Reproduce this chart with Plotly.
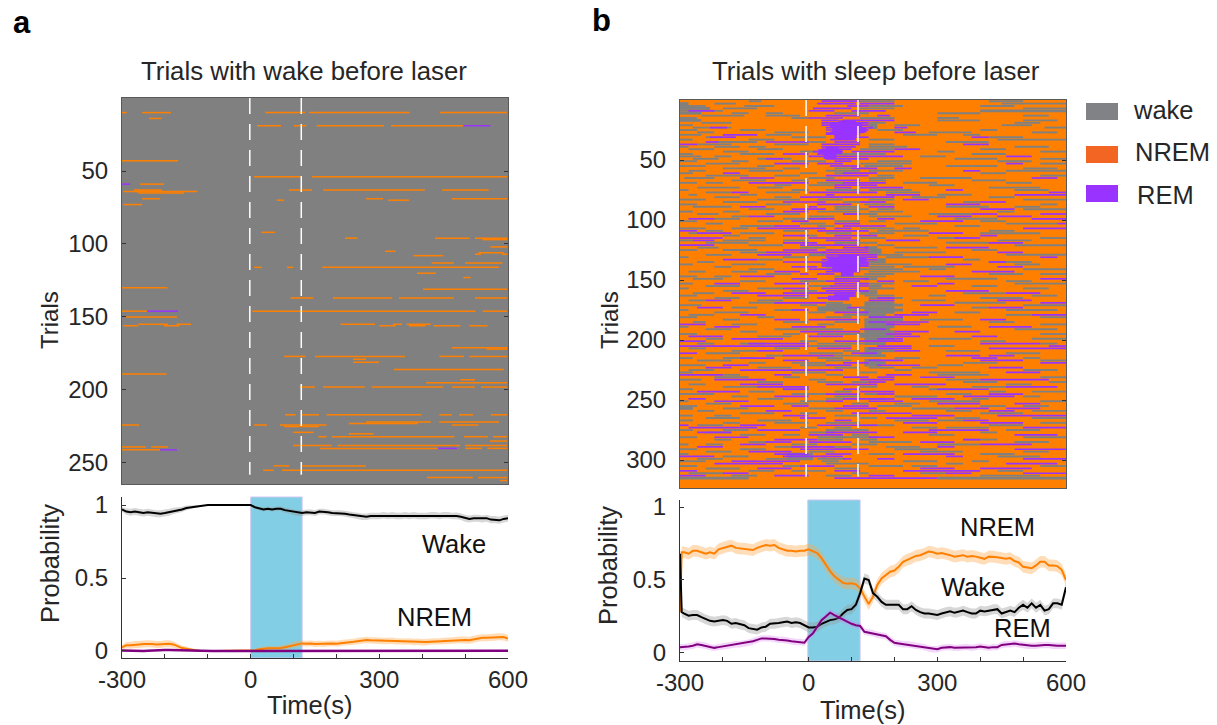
import plotly.graph_objects as go

W, H = 1217, 725
GREY, ORANGE, PURPLE = "#808080", "#FF8000", "#9933FF"
TXT = "#262626"
FONT = "Liberation Sans, Arial, sans-serif"

# ---------- Panel a raster: (trial, start s, end s)
NREM_A = [
 (10,-300,-289),(10,-253,-186),(10,34,127),(10,136,371),(10,441,598),(14,-237,-208),
 (19,15,71),(19,101,130),(19,154,311),(19,327,496),(43,-300,-169),(54,8,117),(54,143,598),
 (59,-258,-202),(63,89,143),(63,169,406),(63,446,555),(63,-272,-207),(64,-297,-124),(64,-272,-207),
 (65,-262,-155),(69,-253,-211),(69,269,309),(69,469,598),(70,61,78),(70,321,369),(73,-297,-253),
 (92,25,57),(96,220,249),(96,430,510),(96,523,598),(97,540,598),(102,559,598),(105,313,338),
 (106,531,590),(107,523,537),(107,586,598),(108,379,449),(113,422,474),(113,500,587),
 (116,8,26),(116,85,99),(116,167,579),(120,388,432),(123,496,513),(130,-300,-194),(131,402,598),
 (137,93,146),(137,192,330),(137,346,474),(137,523,598),(146,-300,-241),(146,4,524),(146,541,598),
 (150,-291,-172),(155,-262,-193),(155,-173,-139),(155,210,290),(155,332,353),(155,364,420),
 (156,-297,-262),(156,-202,-166),(156,300,338),(156,369,408),(156,426,489),(156,510,552),
 (171,469,598),(172,550,598),(177,78,128),(177,150,360),(177,440,497),(177,510,598),
 (179,239,269),(181,239,299),(186,334,590),(189,-300,-196),(193,489,523),(195,409,598),
 (198,114,150),(198,169,266),(198,282,449),(198,469,523),(198,537,598),
 (217,80,105),(217,119,159),(217,177,398),(217,440,469),(217,486,519),(217,560,598),
 (222,269,420),(222,440,579),(223,229,390),(224,-300,-260),(224,8,38),(224,68,177),(224,469,531),
 (225,78,159),(229,99,147),(230,229,287),(232,158,177),(232,189,475),(232,497,553),(232,565,598),
 (235,558,598),(238,99,189),(238,203,488),(238,500,598),(239,-300,-244),(239,-232,-193),
 (240,162,437),(240,500,539),(240,552,598),(241,-300,-211),(252,53,90),(252,119,269),
 (255,29,54),(255,73,598),(260,411,518),(260,530,598),(262,582,598),
]
REM_A = [(19,496,559),(59,-300,-281),(146,-241,-169),(240,437,481),(241,-211,-172)]

# ---------- Panel b raster, one line per two trials; runs in 10 s units from -300.
# NREM is the background. w/r thin wake/REM streak, W thick wake.
RUNS_B = """
w16-19 r33-42 w42-50 w72-80
W0-2 w8-13 r32-41 r42-50 w75-90
w0-6 w15-22 r39-44 w44-52 w70-78
W0-7 w10-18 r31-40 w42-50 w80-90
w0-3 r2-8 w3-10 r30-36 r40-48 W70-90
W0-5 w12-16 w20-24 w36-44 w60-70
w5-15 w20-28 r34-42 r46-49 w80-86
w0-4 w26-30 r30-38 w42-50 w60-65
W0-5 r33-37 r38-50 w60-70 w80-88
w5-12 r33-44 w44-48 w78-84
w0-3 r33-44 W44-46 w50-56 w75-82
w3-12 r7-11 r34-45 W44-46 r50-53 w85-90
w0-4 w14-20 r34-44 w46-52 w70-74
w4-8 w22-30 r35-43 r50-55 w58-68 w82-88
w0-5 r10-18 w20-26 r36-42 w52-60 w66-70
w6-10 r7-13 w26-34 r37-44 w72-80 r68-72
w0-3 w16-22 r35-41 w44-50 w74-90
w8-18 r6-9 r20-30 w28-34 r36-42 w62-72
r0-4 w4-12 w22-30 r33-42 w44-50 r66-72
w0-2 w8-14 w16-20 r33-41 w44-53 w78-86
w2-8 w18-24 r33-40 w42-50 r50-56 w70-76
w10-16 w28-32 r31-38 r40-50 w60-64 w84-90
w0-3 w14-22 r24-30 r32-36 w36-48 w68-76
w0-5 w8-12 r30-44 r44-52 w56-62 r76-82
w3-9 w18-26 r20-24 r34-44 w64-74 w84-90
w0-4 w12-16 w26-34 r36-40 w46-54 w74-82
w6-14 r22-30 r32-38 w42-54 r76-80 w84-90
w0-6 w18-22 r35-42 w43-52 w62-68 w68-74
w10-20 w24-28 w36-44 r40-46 r50-54 w80-88
w2-6 w16-24 w34-42 w44-52 r66-70 w76-90
w0-3 r10-14 w28-32 w36-40 r38-46 w70-76
w6-16 w22-28 r34-44 w46-50 w84-90
w1-8 r14-22 w30-36 w44-50 w56-68 r82-88
w12-20 w26-30 r34-42 w44-48 w68-76
w0-4 w6-10 r16-30 w32-38 r38-48 w52-60 w76-82
w22-26 w30-36 r36-44 r44-46 w58-64
w4-14 w18-24 r36-40 r42-52 w72-84
w0-2 w26-30 w34-42 w44-54 r62-66 w78-86
w6-12 r12-16 w20-28 r30-46 w48-56 r86-90
w2-4 w14-18 r34-36 r48-56 w60-68 r78-90
w8-14 w22-26 r28-42 r42-50 w54-62 w72-78
w0-6 w18-28 w32-38 w44-50 r52-58 w80-90
w10-18 r24-34 w38-44 r42-48 w66-70 r70-76
w0-4 w20-26 r32-40 w43-50 r62-70 w84-88
w3-12 r14-20 r30-32 w36-42 r44-50 w62-72 w78-84
w16-22 r26-34 w36-44 w46-50 r70-78 w80-90
w0-3 w10-14 r24-30 w32-42 w44-52 w74-78
w4-9 w20-28 w38-46 r38-42 w58-68 r68-74 r84-90
w12-16 r16-22 w30-36 w44-54 r60-68 r74-82
r2-8 w8-14 w24-34 r30-36 r46-50 w64-74 r82-90
w0-4 w18-24 r26-30 w36-42 w44-48 r56-66 w70-76
w6-10 w28-34 r36-42 w50-60 w76-88 r88-90
w14-22 r22-28 w32-36 r38-44 r44-48 w64-70
w0-6 w12-16 r18-34 r36-40 w42-50 w52-56 r80-90
r0-4 w6-10 w24-30 r32-44 w46-58 w72-78
w2-6 r4-12 w14-22 w34-40 w44-50 r58-66 w70-84
w10-14 w28-32 r24-30 r36-46 w52-58 r70-74
r0-6 r6-10 w16-20 r30-40 w42-48 w60-68 r64-70 w84-90
w0-3 r3-8 w10-20 w24-30 r34-42 r48-56 w74-82
w6-16 r24-32 w36-46 w62-72 r72-80
r0-8 w16-24 r28-38 r36-42 w46-50 w78-90
w4-9 w28-34 r38-44 W43-46 w50-60 r62-72
w0-4 w10-18 r24-32 r34-44 W44-47 w68-74
w14-20 r20-34 r33-44 W44-47 w50-62 r74-80
w6-12 r18-26 W30-34 r34-46 w46-52 w76-90
w0-2 w24-30 r34-46 w48-58 r58-66 r84-88
r10-18 w18-24 r33-46 W46-48 w66-70
w4-8 r24-36 r34-44 W44-48 w72-82 r72-76
w0-3 w12-20 r34-42 w44-54 r62-68 w78-84
w8-12 r26-32 w34-40 w44-50 w52-64 r74-80
w16-22 r30-36 r36-42 w42-52 w58-62 w80-90
w2-6 w12-18 r22-28 r34-42 w44-56 r68-78
w20-26 r28-30 r32-36 w43-50 w72-80 w84-90
w0-4 w8-12 r14-22 w36-42 w42-48 r56-64
w3-10 r26-32 r36-44 W43-46 w62-74 r84-90
w14-20 w28-34 r34-42 r46-50 w52-58 w76-82
w0-3 r8-14 r22-30 r36-44 w42-50 r60-64 w78-90
w6-14 w30-36 r35-44 W44-47 r54-60 w68-74
w0-2 w18-24 r24-30 r33-42 w44-50 w80-86
w10-16 w26-32 r34-44 w42-46 r62-72
w3-8 r12-20 r24-34 r32-40 W42-46 w66-76 r76-84
w0-4 r18-30 w36-40 w43-50 w58-62 w82-88
w8-14 w24-30 r32-36 w44-52 r46-50 w70-80
w2-6 r6-12 w18-24 r44-50 w54-62 r74-82
w16-24 r22-34 w34-38 W43-50 w64-76 r84-90
w0-5 w28-32 W34-40 W43-52 r56-64 w80-90
r4-10 w12-18 W32-40 r39-42 W42-50 w68-72 r72-80
w0-2 w22-28 r26-30 W32-42 W43-52 w76-88
w8-16 w30-34 r36-44 W42-50 r54-60 w64-70
w2-8 r14-20 w38-44 W43-48 r50-58 w76-82 r82-90
w0-4 w18-22 w34-40 r44-52 W44-50 w84-90
w10-14 r22-28 r30-42 W43-52 w56-66 r70-76
w3-6 w24-30 w36-42 r44-58 W43-48 w72-78
r0-6 w12-18 w32-36 W43-50 r48-56 w84-90
w0-2 r8-14 r26-34 W43-50 w60-68 r72-82
w6-12 w22-30 w30-38 r42-48 W43-49 w78-88
w14-18 r28-36 r36-42 W43-50 r50-58 r64-70
w0-4 w24-28 w32-42 W42-48 r48-54 w84-90
r2-10 w18-26 r30-38 W42-50 r50-56 r68-74
w6-10 r12-24 W43-50 r46-52 w58-68 w82-90
r0-6 w28-32 r36-42 r42-52 w70-76
w4-8 w14-20 r16-30 w32-44 W43-48 r70-84 w84-88
r0-10 r10-30 w30-40 r46-54 w58-64 r86-90
w2-6 w22-28 r32-40 W43-46 r44-54 r72-90
w12-18 r18-24 w38-42 W43-50 r50-56 w62-70
r0-4 w6-14 w30-38 r40-46 W43-47 w76-84
w20-24 r24-36 w36-44 W42-48 r62-70 r72-78
w0-3 w10-18 r14-22 w32-38 w50-56 r68-74 w80-84
w4-12 r24-30 w34-40 W43-47 r44-52 r70-80 w84-90
w16-20 w26-34 r38-44 W43-48 w66-74 r84-90
w0-6 r10-16 w28-36 r34-40 W43-47 r46-56 w60-66
r6-12 w18-26 w36-42 w44-50 w54-60 r72-80
w2-8 r14-32 r32-38 w50-54 w80-88
w0-3 w26-34 w42-46 w58-70 r76-84
r0-10 w10-14 r22-26 w34-38 r48-54 w60-72
w8-16 w24-28 r38-44 r46-50 r56-64 w84-90
w0-5 r8-20 w30-34 r42-50 w62-70 r70-86
w18-24 w32-38 w40-44 r44-48 w66-74 w86-90
w2-6 r14-24 r34-40 r40-46 r50-62 w76-82
w10-18 r18-30 w42-46 w54-58 w68-78 r76-88
w0-3 w24-30 r24-30 r38-42 w58-68 r60-72
r4-14 w16-22 w36-40 r42-50 w72-76 w82-90
w0-8 w26-34 r34-42 w43-46 r46-50 w62-68 r72-80
w12-16 r22-30 w36-42 w50-60 r66-78 w80-84
r2-6 w18-24 w34-38 r38-50 w44-48 r54-64 w68-72
w0-2 r8-16 w28-34 r34-38 r44-52 w58-70 w84-90
w6-12 w24-30 w40-44 w50-56 r60-70 r78-84
w0-4 r14-22 r26-30 r38-44 w46-54 w70-76 w80-86
W0-3 w10-16 w30-36 r36-46 w54-64 r64-72 r76-84
w4-8 r20-26 w34-38 w44-48 w62-68 r72-78 w82-90
w14-22 w28-32 r40-46 r46-54 w70-80
w0-3 w8-12 r24-30 w36-42 r54-64 r74-90
w6-14 r28-34 w42-46 r48-60 w64-70 w82-90
w0-3 w18-26 r36-40 w50-58 w60-66 r66-72
w10-14 w22-30 w34-42 r52-60 r70-80 w84-90
r0-2 w4-10 r14-20 r32-46 w42-50 w72-80
r2-18 w28-32 w36-40 w54-60 w62-72 r80-90
w0-3 w10-16 r18-28 w34-44 r58-72 w76-84
w6-12 r4-12 w30-36 r34-46 r52-60 w70-74
w14-20 w24-28 r30-38 w40-44 w58-64 r78-88
w0-4 r8-16 w32-38 w36-46 r44-50 w80-90
w8-12 r22-32 w32-38 w42-46 w66-74 r66-70
w16-22 r20-26 r30-40 w44-54 r56-64 w78-86
w0-2 w6-10 r14-20 w26-32 w40-46 w60-70 r70-82
r4-10 w22-28 r26-36 w34-40 w48-56 r60-64
w0-4 w14-20 r28-40 r36-44 w50-60 r78-90
w6-12 r16-26 w30-36 w56-66 w80-86
w0-2 r22-30 r34-40 w44-50 r52-64 w70-78
r0-8 w10-16 r24-34 r33-38 r62-66 w74-84
w4-10 w20-28 w32-38 r38-40 r46-50 r80-90
w0-6 r12-18 r18-28 w33-37 w52-60 w68-72
r8-14 r14-24 w34-44 w62-66 r76-88
w0-4 w24-30 r28-36 w44-52 w54-60 w84-90
w6-14 r18-26 w36-42 r56-64 r70-82
r0-4 w16-22 w26-34 r36-42 r52-70 w74-80
w2-10 r10-16 w40-44 w56-62 r62-68 r80-90
r0-6 w12-18 r22-30 w34-40 r44-50 w70-84
W0-16 r36-60 W60-90
""".strip().split("\n")

# Denser patches in panel b: first trial, last trial, start s, end s
REM_BLOBS_B = [(18,19,70,110),(20,23,50,125),(24,27,55,135),(28,29,40,120),(30,33,60,110),
               (40,41,40,70),(42,45,22,78),(46,48,35,65),
               (130,131,70,115),(132,135,45,135),(136,139,30,140),(140,143,55,120),(144,146,75,105),
               (161,163,60,110),(164,167,45,95)]
WAKE_BLOBS_B = [(295, 300, -50, 10)]

# ---------- Panel a probability curves (10 s steps from -300)
WAKE_A = [.97,.955,.95,.955,.95,.945,.95,.945,.94,.94,.945,.95,.96,.965,.97,.98,.985,.99,.992,.997,
 1,1,1,1,1,1,1,1,1,1,1,.985,.975,.97,.975,.97,.975,.975,.965,.96,
 .95,.945,.945,.95,.95,.945,.955,.955,.95,.945,.945,.945,.94,.935,.93,.925,.92,.92,.925,.925,
 .925,.93,.925,.93,.925,.925,.93,.925,.93,.925,.925,.925,.93,.93,.925,.93,.93,.925,.925,.92,
 .91,.905,.91,.91,.905,.91,.9,.9,.895,.905,.91]
NREM_P_A = [.025,.04,.04,.045,.045,.048,.05,.048,.044,.045,.05,.05,.045,.03,.02,.015,.008,.005,.002,0,
 0,0,0,0,0,0,0,0,0,0,0,.005,.012,.016,.018,.018,.018,.02,.025,.032,
 .043,.048,.052,.05,.052,.048,.05,.048,.05,.052,.05,.055,.058,.06,.063,.068,.072,.075,.073,.072,
 .07,.068,.068,.07,.066,.066,.064,.066,.062,.063,.06,.062,.064,.066,.066,.068,.07,.072,.074,.076,
 .076,.074,.08,.088,.09,.09,.092,.095,.098,.096,.085]
REM_P_A = [.003,.002,0,0,0,0,.002,.004,.005,.005,.006,.006,.005,.005,.003,.001,0,0,0,0,
 0,0,0,0,0,0,0,0,0,0,0,0,0,0,0,0,0,0,0,0,
 0,0,0,0,0,0,0,0,0,0,0,0,0,0,0,0,0,0,0,0,
 0,0,0,0,0,0,0,0,0,0,0,0,0,0,0,0,0,.003,.004,.005,
 .005,.004,.004,.005,.005,.005,.003,.002,.002,.002,.002]
SEM_A = [.016,.022,.024,.024,.024,.024,.024,.024,.024,.024,.024,.024,.022,.02,.018,.016,.012,.01,.006,.002,
 0,0,0,0,0,0,0,0,0,0,0,.008,.012,.015,.015,.015,.015,.016,.018,.018,
 .02,.02,.02,.02,.02,.02,.02,.02,.02,.02,.02,.02,.02,.021,.021,.022,.022,.022,.022,.022,
 .022,.022,.022,.022,.022,.022,.022,.022,.022,.022,.022,.022,.022,.022,.022,.022,.022,.022,.023,.023,
 .024,.024,.024,.024,.024,.024,.024,.024,.024,.024,.024]

# ---------- Panel b probability curves
TIME_B = [-300,-296,-290,-280,-270,-260,-250,-240,-230,-220,-210,
 -200,-190,-180,-170,-160,-150,-140,-130,-120,-110,-100,-90,-80,-70,-60,-50,-40,-30,-20,-10,
 0,10,20,30,40,50,60,70,80,90,100,110,120,130,140,150,160,170,180,190,
 200,210,220,230,240,250,260,270,280,290,300,310,320,330,340,350,360,370,380,390,
 400,410,420,430,440,450,460,470,480,490,500,510,520,530,540,550,560,570,580,590,600]
NREM_P_B = [.28,.69,.69,.68,.70,.70,.69,.68,.69,.68,.71,
 .72,.73,.735,.72,.715,.715,.71,.705,.72,.73,.74,.735,.74,.72,.71,.70,.70,.695,.70,.70,
 .71,.70,.685,.65,.60,.56,.525,.50,.48,.475,.477,.47,.443,.386,.335,.386,.466,.51,.534,.557,
 .565,.59,.625,.64,.65,.665,.67,.68,.695,.69,.68,.685,.68,.67,.66,.665,.67,.66,.665,.66,
 .65,.645,.66,.66,.655,.65,.645,.65,.63,.62,.59,.585,.58,.60,.625,.625,.60,.60,.595,.57,.50]
WAKE_B = [.68,.28,.27,.255,.26,.26,.245,.23,.22,.215,.22,
 .225,.22,.20,.205,.195,.19,.17,.165,.16,.175,.18,.20,.20,.205,.21,.215,.205,.21,.205,.19,
 .175,.175,.18,.20,.215,.225,.23,.24,.27,.295,.30,.33,.41,.51,.50,.41,.385,.35,.33,.33,
 .33,.33,.30,.30,.32,.295,.28,.27,.27,.265,.26,.27,.28,.285,.275,.28,.29,.28,.27,.27,
 .29,.285,.29,.30,.30,.27,.28,.29,.28,.31,.33,.31,.34,.31,.33,.29,.30,.34,.34,.33,.45]
REM_P_B = [.04,.04,.04,.045,.05,.06,.055,.05,.04,.035,.04,
 .045,.05,.055,.06,.06,.065,.07,.08,.09,.10,.10,.10,.095,.09,.09,.085,.08,.075,.075,.07,
 .11,.135,.18,.225,.25,.276,.26,.245,.225,.215,.20,.19,.185,.145,.14,.135,.125,.12,.115,.09,
 .07,.065,.06,.06,.055,.05,.045,.04,.03,.025,.025,.035,.04,.04,.035,.035,.04,.04,.035,.04,
 .045,.04,.035,.04,.04,.055,.06,.06,.065,.06,.055,.05,.05,.05,.055,.055,.055,.05,.05,.05,.05]
SEM_B = {"nrem": .04, "wake": .034, "rem": .022}

TIME_A = list(range(-300, 601, 10))
X_TICKS = [-300,-200,-100,0,100,200,300,400,500,600]
X_TEXT = ["-300","","","0","","","300","","","600"]
Y_TICKS_A = [50,100,150,200,250]
Y_TICKS_B = [50,100,150,200,250,300]
Y_TICKS_P = [0,0.5,1]
Y_TEXT_P = ["0","0.5","1"]

def dx(a, b): return [a / W, b / W]
def dy(top, bot): return [1 - bot / H, 1 - top / H]

fig = go.Figure()

def streaks(segs, col, width, xa, ya):
    xs, ys = [], []
    for tr, a, b in segs:
        xs += [a, b, None]; ys += [tr, tr, None]
    fig.add_trace(go.Scatter(x=xs, y=ys, mode="lines", line=dict(color=col, width=width), connectgaps=False,
                             hoverinfo="skip", showlegend=False, xaxis=xa, yaxis=ya))

streaks(NREM_A, ORANGE, 1.5, "x", "y")
streaks(REM_A, PURPLE, 1.5, "x", "y")

groups = {"w": [], "r": [], "W": []}
for i, line in enumerate(RUNS_B):
    for tok in line.split():
        a, b = tok[1:].split("-")
        groups[tok[0]].append((2 * i + 1, int(a) * 10 - 300, int(b) * 10 - 300))
def expand(blobs):
    return [(t, a, b) for t0, t1, a, b in blobs for t in range(t0, t1 + 1, 2)]
streaks(groups["w"], GREY, 1.9, "x2", "y2")
streaks(groups["W"] + expand(WAKE_BLOBS_B), GREY, 2.8, "x2", "y2")
streaks(groups["r"], PURPLE, 1.7, "x2", "y2")
streaks(expand(REM_BLOBS_B), PURPLE, 2.6, "x2", "y2")

def curve(t, v, sem, col, band, xa, ya, lw=2):
    t = list(t)
    s = sem if isinstance(sem, list) else [sem] * len(t)
    hi = [min(1, a + b) for a, b in zip(v, s)]
    lo = [max(0, a - b) for a, b in zip(v, s)]
    fig.add_trace(go.Scatter(x=t + t[::-1], y=hi + lo[::-1], fill="toself", fillcolor=band,
                             mode="none", hoverinfo="skip", showlegend=False, xaxis=xa, yaxis=ya))
    fig.add_trace(go.Scatter(x=t, y=v, mode="lines", line=dict(color=col, width=lw),
                             hoverinfo="skip", showlegend=False, xaxis=xa, yaxis=ya))

GB, OB, PB = "rgba(150,150,150,0.38)", "rgba(255,165,70,0.38)", "rgba(220,120,240,0.3)"
curve(TIME_A, WAKE_A, SEM_A, "#000000", GB, "x3", "y3")
curve(TIME_A, NREM_P_A, SEM_A, ORANGE, OB, "x3", "y3")
curve(TIME_A, REM_P_A, 0.002, "#800080", PB, "x3", "y3", lw=2.5)
curve(TIME_B, NREM_P_B, SEM_B["nrem"], ORANGE, OB, "x4", "y4")
curve(TIME_B, WAKE_B, SEM_B["wake"], "#000000", GB, "x4", "y4")
curve(TIME_B, REM_P_B, SEM_B["rem"], "#800080", PB, "x4", "y4")

tf = dict(family=FONT, size=24, color=TXT)
common = dict(automargin=False, showgrid=False, zeroline=False, showline=True)
heat_x = dict(range=[-300, 600], showticklabels=False, ticks="", mirror=True, linecolor="#5a5a5a", linewidth=1, **common)
heat_y = dict(ticks="inside", ticklen=4, tickcolor="#333", mirror="ticks",
              linecolor="#5a5a5a", linewidth=1, tickfont=tf, ticklabelstandoff=8, **common)
prob_x = dict(range=[-300, 600], tickvals=X_TICKS, ticktext=X_TEXT, ticks="inside", ticklen=4, tickcolor="#333",
              linecolor="#333", linewidth=1, tickfont=tf, ticklabelstandoff=0, **common)
prob_y = dict(tickvals=Y_TICKS_P, ticktext=Y_TEXT_P, ticks="inside", ticklen=4, tickcolor="#333",
              linecolor="#333", linewidth=1, tickfont=tf, ticklabelstandoff=8, **common)

shapes = [
    dict(type="rect", xref="x domain", yref="y domain", x0=0, x1=1, y0=0, y1=1, layer="below", fillcolor=GREY, line=dict(width=0)),
    dict(type="rect", xref="x2 domain", yref="y2 domain", x0=0, x1=1, y0=0, y1=1, layer="below", fillcolor=ORANGE, line=dict(width=0)),
]
for xa, ya, xs, yend in (("x", "y", (-2, 118), 258), ("x2", "y2", (-6, 115), 314)):
    for xv in xs:
        shapes.append(dict(type="line", xref=xa, yref=ya, x0=xv, x1=xv, y0=0, y1=yend, layer="above",
                           line=dict(color="white", width=1.5, dash="16px,10px")))
for xa, ya, x0, x1 in (("x3", "y3 domain", 0, 120), ("x4", "y4 domain", -2, 120)):
    shapes.append(dict(type="rect", xref=xa, yref=ya, x0=x0, x1=x1, y0=0, y1=1,
                       layer="below", fillcolor="#82CFE5", line=dict(color="#CFC8F2", width=1)))
for y0, y1, c in ((103, 120, "#808285"), (146, 163, "#F26522"), (185, 202, "#9933FF")):
    shapes.append(dict(type="rect", xref="paper", yref="paper", x0=1086 / W, x1=1118 / W,
                       y0=1 - y1 / H, y1=1 - y0 / H, fillcolor=c, line=dict(width=0)))

def note(text, x, y, size=25.5, anchor="center", bold=False, angle=0, color=TXT):
    return dict(text=f"<b>{text}</b>" if bold else text, x=x / W, y=1 - y / H, xref="paper", yref="paper",
                xanchor=anchor, yanchor="middle", showarrow=False, textangle=angle,
                font=dict(family=FONT, size=size, color=color))

ann = [
 note("a", 22, 22, 31, bold=True, color="#000"), note("b", 601, 20, 31, bold=True, color="#000"),
 note("Trials with wake before laser", 304, 71, size=25.8), note("Trials with sleep before laser", 876, 71, size=25.8),
 note("Trials", 49, 320, size=24, angle=-90), note("Trials", 609, 320, size=24, angle=-90),
 note("Probability", 50, 564, angle=-90), note("Probability", 608, 566, angle=-90),
 note("Time(s)", 309, 705), note("Time(s)", 862, 710),
 note("Wake", 454, 544, color="#111"), note("NREM", 434, 617, color="#111"),
 note("NREM", 997, 527, color="#111"), note("Wake", 973, 587, color="#111"), note("REM", 1022, 628, color="#111"),
 note("wake", 1131, 110, anchor="left"), note("NREM", 1133, 152, anchor="left"), note("REM", 1135, 195, anchor="left"),
]

fig.update_layout(
    template="none", width=W, height=H, autosize=False, margin=dict(l=0, r=0, t=0, b=0, pad=0),
    paper_bgcolor="white", plot_bgcolor="white", showlegend=False, shapes=shapes, annotations=ann,
    xaxis=dict(domain=dx(122, 508), anchor="y", **heat_x),
    yaxis=dict(domain=dy(98, 484), anchor="x", range=[264.4, 0], tickvals=Y_TICKS_A, **heat_y),
    xaxis2=dict(domain=dx(680, 1066), anchor="y2", **heat_x),
    yaxis2=dict(domain=dy(100, 488), anchor="x2", range=[323.3, 0], tickvals=Y_TICKS_B, **heat_y),
    xaxis3=dict(domain=dx(122, 508), anchor="y3", **prob_x),
    yaxis3=dict(domain=dy(497, 658), anchor="x3", range=[-0.048, 1.055], **prob_y),
    xaxis4=dict(domain=dx(680, 1066), anchor="y4", **prob_x),
    yaxis4=dict(domain=dy(500, 661), anchor="x4", range=[-0.055, 1.048], **prob_y),
)
fig.write_html("out.html", config=dict(displayModeBar=False),
               post_script="document.body.style.margin='0';document.body.style.overflow='hidden';")
